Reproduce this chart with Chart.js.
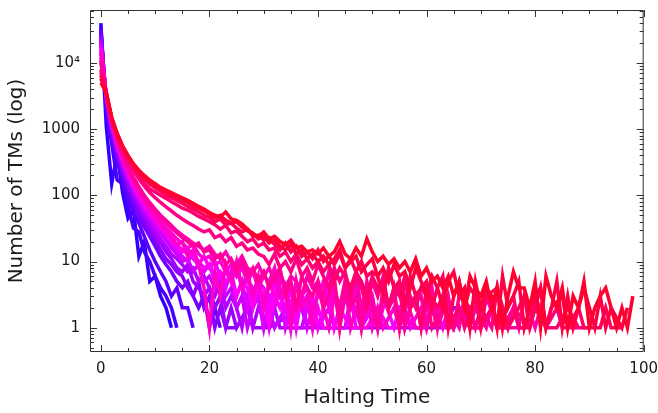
<!DOCTYPE html>
<html>
<head>
<meta charset="utf-8">
<script src="https://cdn.jsdelivr.net/npm/chart.js@4.4.1/dist/chart.umd.min.js"></script>
<style>
  html, body { margin: 0; padding: 0; background: #fff; }
</style>
</head>
<body>
<canvas id="chart" width="658" height="413"></canvas>
<script>
// number of machines halting at each step, index = halting time, null = none
// ordered from the blue series (fast decay) to the red series (long tail)
const s00 = [40000, 1100, 150, 430, 110, 45, 60, 12, 20, 5, 6, 3, 2, 1];
const s01 = [36000, 2000, 600, 170, 150, 70, 32, 28, 14, 10, 6, 4, 3, 2, 1];
const s02 = [32000, 2400, 750, 320, 180, 95, 55, 38, 24, 15, 10, 7, 5, 3, 4, 2, 2, 1];
const s03 = [29000, 2600, 850, 400, 210, 120, 75, 48, 33, 24, 17, 12, 9, 7, 5, 4, 5, 3, 2, 3, 1, 2, 1];
const s04 = [26000, 2800, 950, 440, 240, 140, 90, 58, 40, 28, 21, 15, 11, 9, 7, 6, 4, 3, 5, 2, 3, 1, 2, 1, null, 1];
const s05 = [24000, 2900, 1000, 480, 270, 160, 100, 68, 48, 34,
  25, 19, 14, 11, 8, 7, 9, 5, 4, 3,
  4, 2, 3, 1, 2, 1, null, 2, 1, null,
  null, 1, null, null, null, null, null, 2, 1, null,
  null, null, null, null, null, 1, null, null, null, null,
  null, null, null, null, null, null, null, null, null, null,
  null, null, null, 1, null, 2, 2, null, 1];
const s06 = [22000, 3000, 1050, 510, 290, 175, 112, 76, 54, 40,
  29, 22, 17, 13, 11, 9, 7, 8, 5, 6,
  4, 3, 5, 2, 3, 2, 1, 3, 1, 2,
  null, 1, 2, 1, null, null, 1, null, 1];
const s07 = [20000, 3100, 1100, 540, 310, 190, 124, 85, 62, 46,
  34, 27, 21, 16, 13, 10, 11, 7, 9, 5,
  6, 4, 5, 3, 4, 2, 3, 1, 2, 3,
  1, 2, 1, null, 2, 1, null, 1, 2, null,
  1, null, null, 1, null, 1];
const s08 = [18000, 3150, 1150, 570, 330, 205, 135, 93, 68, 50,
  38, 30, 24, 19, 15, 12, 10, 13, 8, 7,
  9, 5, 6, 4, 7, 3, 5, 2, 4, 3,
  1, 3, 2, 4, 1, 2, null, 3, 1, 2,
  1, null, 2, 1, null, 1, 3, null, 1, null,
  2, null, 1];
const s09 = [16000, 3200, 1200, 600, 350, 220, 145, 100, 75, 56,
  43, 34, 27, 21, 17, 14, 16, 11, 9, 12,
  8, 10, 6, 7, 5, 8, 4, 6, 3, 5,
  4, 2, 5, 3, 2, 4, 1, 3, 2, 3,
  1, 2, 4, 1, 2, null, 3, 1, 1, 2,
  null, 1, 3, null, 1, 2, null, null, 1, null, 1];
const s10 = [15000, 3200, 1220, 610, 360, 225, 150, 104, 77, 58,
  44, 35, 28, 22, 18, 15, 13, 14, 10, 8,
  9, 6, 7, 5, 6, 3, 5, 4, 2, 4,
  3, 1, 3, 2, 4, 1, 2, null, 3, 1,
  2, 1, null, 1, 2, null, 1, null, null, 1,
  null, 2, null, 1, null, 1];
const s11 = [12000, 3300, 1300, 650, 390, 250, 168, 118, 88, 66,
  51, 41, 33, 27, 22, 19, 16, 18, 13, 11,
  12, 9, 10, 7, 9, 6, 8, 5, 7, 4,
  6, 5, 3, 6, 4, 2, 5, 3, 4, 2,
  3, 5, 2, 4, 1, 3, 2, 4, 1, 2,
  3, 1, 2, null, 3, 1, 2, 1, null, 2,
  1, 3, null, 1, 2, 1, null, 2, 1, null,
  1, 3, null, 1, null, 1];
const s12 = [14000, 3250, 1250, 620, 370, 235, 155, 108, 80, 60,
  46, 37, 29, 23, 18, 20, 12, 15, 9, 4,
  1, 7, 3, 9, 5, 10, 4, 7, 3, 6,
  2, 5, 8, 3, 4, 1, 5, 2, 3, 1,
  4, 2, 1, 3, 2, 5, 1, 2, null, 3,
  1, 2, 1, null, 2, 1, 3, null, 1, 1,
  null, 2, null, 1, null, 1, 2, null, 1];
const s13 = [10000, 3350, 1350, 700, 420, 280, 190, 135, 100, 78,
  62, 50, 42, 35, 29, 25, 22, 19, 17, 15,
  17, 13, 11, 14, 10, 9, 12, 8, 7, 9,
  6, 8, 5, 7, 4, 6, 5, 3, 6, 4,
  5, 3, 7, 4, 2, 5, 3, 6, 2, 4,
  3, 1, 4, 2, 3, 5, 1, 2, 3, 1,
  2, 4, 1, 3, 2, null, 1, 3, 1, 2,
  null, 1, 2, 4, 1, null, 2, 1, 3, null,
  1, 2, 1];
const s14 = [11000, 3300, 1300, 660, 400, 260, 178, 128, 96, 74,
  58, 47, 39, 32, 27, 23, 20, 17, 19, 14,
  15, 11, 13, 9, 11, 7, 10, 6, 8, 5,
  7, 4, 6, 8, 3, 5, 2, 6, 4, 3,
  5, 2, 3, 6, 1, 4, 2, 3, 1, 5,
  2, 1, 3, 2, null, 4, 1, 2, null, 3,
  1, 2, 1, null, 3, 1, null, 2, 1, null,
  1, null, 2, 1, null, null, 1, null, 1];
const s15 = [8000, 3400, 1400, 780, 490, 335, 240, 178, 138, 110,
  92, 78, 67, 58, 50, 44, 39, 35, 31, 28,
  30, 23, 25, 20, 23, 17, 19, 15, 16, 13,
  12, 9, 13, 8, 10, 7, 11, 6, 8, 5,
  9, 6, 4, 8, 5, 7, 3, 6, 4, 2,
  5, 3, 6, 2, 4, 1, 5, 3, 2, 4,
  3, 1, null, 2, null, 1, 3, null, 2, 1,
  2, null, 1, 4, null, 1, 2, null, null, 1,
  3, null, 1, null, 2, 1, null, null, 1, null, 1];
const s16 = [7200, 3450, 1420, 800, 500, 345, 250, 190, 150, 125,
  112, 100, 90, 80, 72, 64, 60, 54, 48, 44,
  40, 36, 31, 35, 27, 29, 24, 20, 22, 17,
  19, 15, 16, 12, 14, 10, 13, 9, 11, 8,
  10, 7, 9, 5, 8, 6, 4, 7, 5, 3,
  6, 4, 5, 2, 4, 3, 6, 2, 3, 1,
  4, null, 2, 3, 1, null, 2, 1, null, 3,
  1, null, 2, 1, null, null, 3, 1, null, 1,
  2, null, 1, null, 1, null, 2, null, 1];
const s17 = [6500, 3500, 1460, 840, 540, 380, 280, 215, 175, 148,
  130, 115, 102, 92, 84, 76, 68, 62, 56, 50,
  46, 40, 44, 36, 38, 32, 28, 31, 24, 25,
  21, 23, 18, 15, 19, 14, 17, 12, 14, 11,
  15, 10, 12, 9, 13, 8, 11, 7, 10, 6,
  7, 6, 3, 8, 4, 5, 2, 6, 3, 4,
  5, 2, 4, 6, 1, 3, 5, 2, 4, 3,
  1, 3, null, 4, 2, 1, null, 2, 3, 1,
  null, 4, 1, 2, null, 3, 1, null, 2, 1,
  null, null, 1, 2, 1, null, 1];
const s18 = [5800, 3500, 1480, 850, 550, 390, 290, 230, 190, 160,
  140, 125, 112, 100, 92, 85, 78, 70, 64, 58,
  52, 46, 50, 42, 38, 40, 33, 29, 27, 22,
  24, 19, 21, 17, 15, 18, 13, 15, 11, 13,
  10, 12, 9, 11, 15, 8, 10, 12, 7, 9,
  11, 6, 8, 5, 9, 6, 7, 4, 8, 5,
  3, 6, 4, 2, 5, 7, 3, 4, 1, 5,
  2, 4, 3, 1, 6, 2, 3, 5, 1, 2,
  3, 4, 1, 2, 5, 1, 3, 1, 2, 4,
  2, 1, 3, 1, 2, null, 1, 2];
const s19 = [5000, 3600, 1500, 860, 560, 400, 300, 240, 200, 170,
  150, 132, 120, 110, 100, 92, 84, 76, 68, 62,
  55, 50, 47, 56, 44, 42, 37, 31, 26, 24,
  28, 22, 24, 20, 18, 21, 16, 17, 14, 15,
  13, 16, 12, 14, 20, 13, 11, 16, 12, 22,
  14, 10, 12, 9, 11, 8, 10, 7, 11, 6,
  8, 5, 6, 4, 6, 3, 5, 2, 6, 4,
  3, 5, 2, 4, 1, 3, 7, 4, 4, 2,
  5, 1, 6, 3, 2, 4, 1, 3, 2, 5,
  1, 2, 3, 4, 2, 1, 2, 1, 3];

const series = [s00, s01, s02, s03, s04, s05, s06, s07, s08, s09,
  s10, s11, s12, s13, s14, s15, s16, s17, s18, s19];
const xTicks = [0, 20, 40, 60, 80, 100];
const yTicks = [1, 10, 100, 1000, 10000];
const yTickLabels = ["1", "10", "100", "1000", "10⁴"];

Chart.defaults.font.family = "'DejaVu Sans', sans-serif";
Chart.defaults.color = "#1a1a1a";

// frame with inward ticks on all four sides
const framePlugin = {
  id: "frame",
  afterDatasetsDraw(chart) {
    const { ctx, chartArea: a, scales: { x, y } } = chart;
    ctx.save();
    ctx.strokeStyle = "#333";
    ctx.lineWidth = 1;
    ctx.beginPath();
    ctx.rect(a.left + 0.5, a.top + 0.5, a.right - a.left - 1, a.bottom - a.top - 1);
    for (let v = 0; v <= 100; v += 5) {
      const px = Math.round(x.getPixelForValue(v)) + 0.5;
      const len = v % 20 === 0 ? 7 : 4;
      ctx.moveTo(px, a.bottom); ctx.lineTo(px, a.bottom - len);
      ctx.moveTo(px, a.top); ctx.lineTo(px, a.top + len);
    }
    for (let e = -1; e <= 4; e++) {
      for (let m = 1; m <= 9; m++) {
        const v = m * Math.pow(10, e);
        if (v < y.min || v > y.max) continue;
        const py = Math.round(y.getPixelForValue(v)) + 0.5;
        const len = m === 1 ? 7 : 4;
        ctx.moveTo(a.left, py); ctx.lineTo(a.left + len, py);
        ctx.moveTo(a.right, py); ctx.lineTo(a.right - len, py);
      }
    }
    ctx.stroke();
    ctx.restore();
  }
};

// red series last in the list so they are drawn on top
const datasets = series.map((vals, k) => ({
  data: vals.map((v, i) => ({ x: i, y: v })),
  borderColor: `hsl(${252 + 97 * k / (series.length - 1)}, 100%, 50%)`,
  borderWidth: 3.5,
  borderJoinStyle: "miter",
  pointRadius: 0,
  tension: 0,
  spanGaps: true,
  fill: false
})).reverse();

new Chart(document.getElementById("chart"), {
  type: "line",
  data: { datasets },
  options: {
    responsive: false,
    animation: false,
    devicePixelRatio: 1,
    layout: { padding: { top: 10, right: 12, bottom: 0, left: 0 } },
    plugins: { legend: { display: false }, tooltip: { enabled: false } },
    scales: {
      x: {
        type: "linear",
        min: -2,
        max: 100,
        // label gap comes from tickLength so it does not widen the overhang padding
        grid: { display: false, drawTicks: true, tickLength: 8 },
        border: { display: false },
        afterBuildTicks: s => { s.ticks = xTicks.map(v => ({ value: v })); },
        afterFit: s => { s.height = 61; },
        ticks: { padding: 0, maxRotation: 0, autoSkip: false, font: { size: 15 } },
        title: { display: true, text: "Halting Time", font: { size: 20 }, padding: { top: 0, bottom: 3 } }
      },
      y: {
        type: "logarithmic",
        min: 0.43,
        max: 63000,
        grid: { display: false, drawTicks: true, tickLength: 10 },
        border: { display: false },
        afterBuildTicks: s => { s.ticks = yTicks.map(v => ({ value: v })); },
        afterFit: s => { s.width = 90; },
        ticks: { padding: 0, autoSkip: false, font: { size: 15 }, callback: (v, i) => yTickLabels[i] },
        title: { display: true, text: "Number of TMs (log)", font: { size: 20 }, padding: { top: 5, bottom: 0 } }
      }
    }
  },
  plugins: [framePlugin]
});
</script>
</body>
</html>
